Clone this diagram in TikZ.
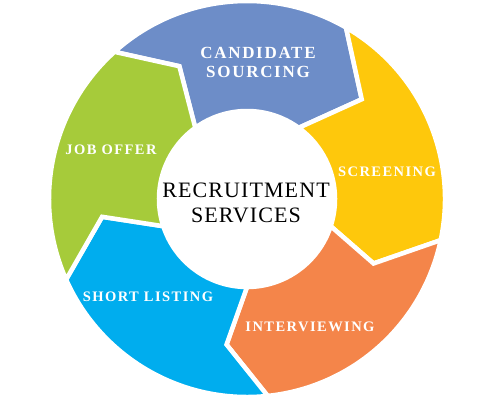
\documentclass[tikz,border=0pt]{standalone}
\usepackage{fontspec}
\setmainfont{Liberation Serif}
\newfontfamily\phasefont[LetterSpace=10]{Liberation Serif}
\newfontfamily\hubfont[LetterSpace=5]{Liberation Serif}
\usetikzlibrary{calc}
\definecolor{sourcing}{RGB}{109,141,200}
\definecolor{screening}{RGB}{254,200,12}
\definecolor{interviewing}{RGB}{244,133,74}
\definecolor{shortlisting}{RGB}{0,173,238}
\definecolor{joboffer}{RGB}{166,203,58}

\begin{document}
\begin{tikzpicture}[x=1pt,y=1pt,
                    every node/.style={align=center}]
  \tikzstyle{segment}=[draw=white,line width=4.5pt,line join=miter]
  \tikzstyle{phase}=[text=white,font=\phasefont\bfseries\fontsize{14.5}{17}\selectfont]
  \tikzstyle{hub}=[text=black,font=\hubfont\fontsize{22}{25}\selectfont]

  \useasboundingbox (0,0) rectangle (500,400);

  % ring of chevrons, clockwise from the top
  % tail angle / tail tip angle / tail tip radius / head tip angle / head tip radius / colour
  \begin{scope}[shift={(247,201)}]
    \foreach \a/\t/\tr/\h/\hr/\col in {132/117/149/41/152/sourcing,
                                       60/41/152/-27/142/screening,
                                       -12/-27/142/-98/147/interviewing,
                                       -84/-98/147/-173/146/shortlisting,
                                       -156/-173/146/-243/149/joboffer}
      \path[segment,fill=\col] (\a:198) arc[start angle=\a, end angle=\a-72, radius=198]
        -- (\h:\hr) -- (\a-78:88) arc[start angle=\a-78, end angle=\a-6, radius=88]
        -- (\t:\tr) -- cycle;
  \end{scope}

  \node[hub] (hub) at (246,197) {RECRUITMENT\\SERVICES};
  \node[phase,font=\phasefont\bfseries\fontsize{17}{19}\selectfont] (sourcing) at (258,338) {CANDIDATE\\SOURCING};
  \node[phase] (screening) at (387,228) {SCREENING};
  \node[phase] (interviewing) at (310,73) {INTERVIEWING};
  \node[phase] (shortlisting) at (148,103) {SHORT LISTING};
  \node[phase] (joboffer) at (111,250) {JOB OFFER};
\end{tikzpicture}
\end{document}
